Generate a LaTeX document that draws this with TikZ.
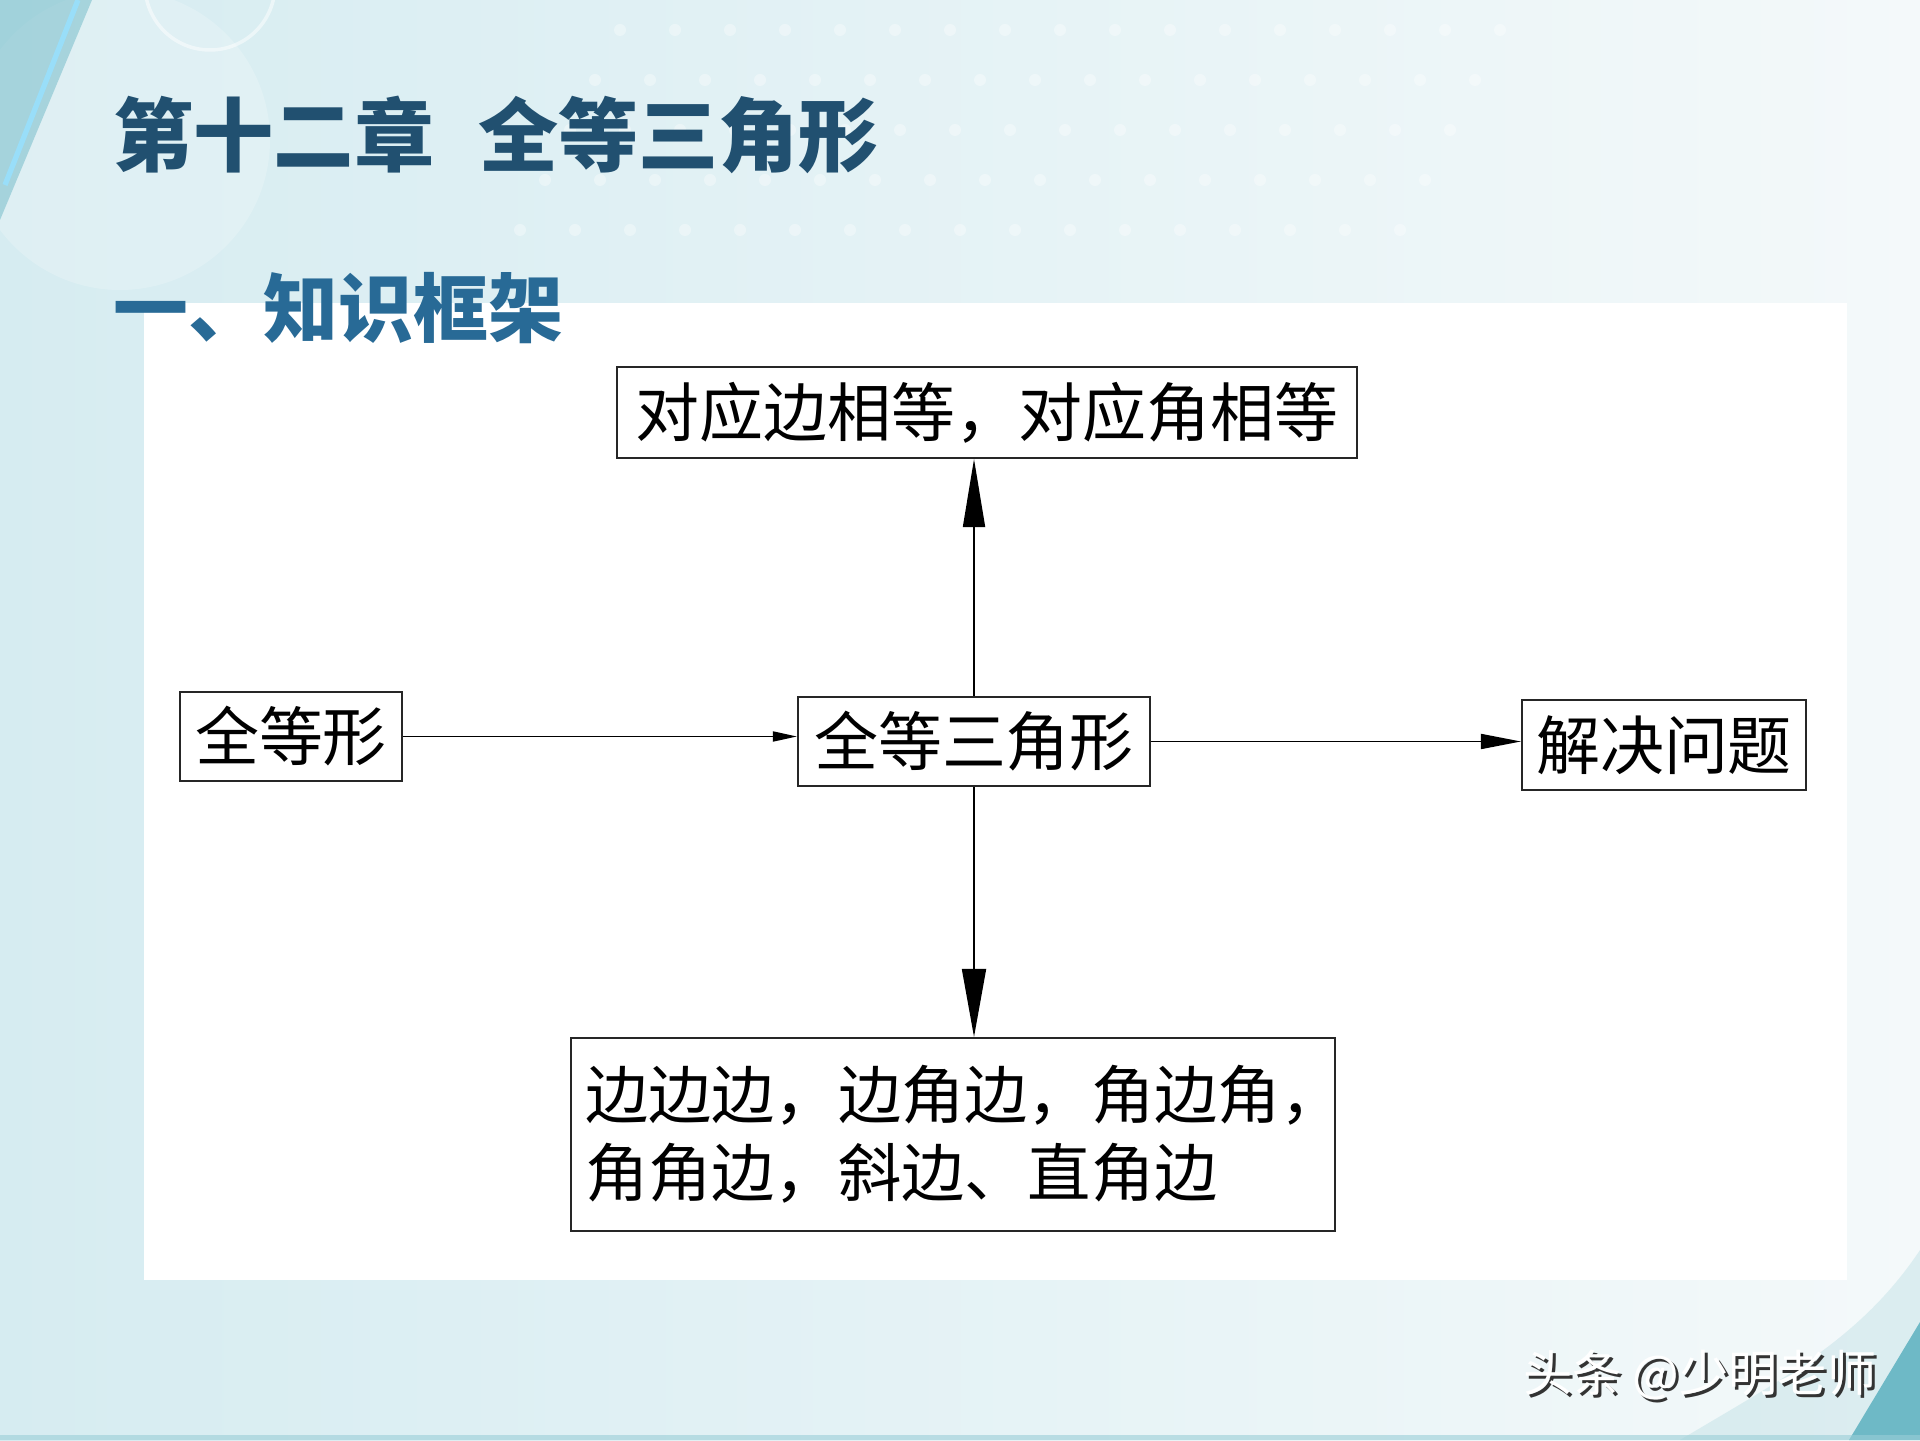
\documentclass[tikz,border=0pt]{standalone}
\usepackage{fontspec}
\newfontfamily\cjk{Noto Sans CJK SC}
\usetikzlibrary{arrows.meta}
\definecolor{titleblue}{RGB}{33,80,112}
\definecolor{subblue}{RGB}{40,106,150}
\definecolor{bgcyan}{RGB}{214,236,241}
\definecolor{bglight}{RGB}{244,249,250}
\definecolor{tealdeco}{RGB}{110,185,198}

\begin{document}
\begin{tikzpicture}[
  box/.style={draw=black!85,line width=0.6pt,fill=white,inner sep=0pt,
    font=\cjk\fontsize{18.2pt}{22.3pt}\selectfont},
  link/.style={line width=0.5pt}
]
\useasboundingbox (0,0) rectangle (19.2,14.4);
% background
\shade[left color=bgcyan,right color=bglight] (0,0) rectangle (19.2,14.4);
\fill[white,opacity=0.2] (1.2,13.0) circle (1.5);
\draw[white,opacity=0.5,line width=1pt] (2.1,14.55) circle (0.65);
\fill[tealdeco,opacity=0.5] (0,14.4) -- (0.92,14.4) -- (0,12.2) -- cycle;
\draw[cyan!40,line width=1.5pt] (0.05,12.55) -- (0.78,14.4);
\foreach \i in {0,...,16} {
  \foreach \j in {0,...,4} {
    \fill[white,opacity=0.35] (6.2+0.55*\i-0.25*\j,14.1-0.5*\j) circle (0.06);
  }
}
\fill[tealdeco!50,opacity=0.4] (16.8,0) .. controls (17.8,0.6) and (18.6,1.0) .. (19.2,1.9) -- (19.2,0) -- cycle;
\fill[tealdeco] (18.49,0) -- (19.2,0) -- (19.2,1.18) -- cycle;
\fill[tealdeco!70,opacity=0.6] (0,0) rectangle (19.2,0.05);

% white panel
\fill[white] (1.44,1.60) rectangle (18.47,11.37);

% headings
\node[anchor=west,inner sep=0pt,text=titleblue,font=\cjk\bfseries\fontsize{22.8pt}{26pt}\selectfont]
  (title) at (1.13,13.05) {第十二章\hspace{0.55em}全等三角形};
\node[anchor=west,inner sep=0pt,text=subblue,font=\cjk\bfseries\fontsize{21.3pt}{25pt}\selectfont]
  (subtitle) at (1.13,11.32) {一、知识框架};

% boxes
\node[box,minimum width=7.40cm,minimum height=0.91cm] (tbox) at (9.87,10.275) {对应边相等，对应角相等};
\node[box,minimum width=2.22cm,minimum height=0.89cm] (lbox) at (2.91,7.035) {全等形};
\node[box,minimum width=3.52cm,minimum height=0.89cm] (mbox) at (9.74,6.985) {全等三角形};
\node[box,minimum width=2.84cm,minimum height=0.90cm] (rbox) at (16.64,6.95) {解决问题};
\node[box,minimum width=7.64cm,minimum height=1.93cm,inner xsep=0.14cm,text width=7.36cm,align=left,
  font=\cjk\fontsize{18pt}{22.3pt}\selectfont] (bbox) at (9.53,3.055)
  {边边边，边角边，角边角，\\角角边，斜边、直角边};

% connectors
\draw[link,-{Triangle[length=0.68cm,width=0.22cm]}] (mbox.north) -- (mbox.north |- tbox.south);
\draw[link,-{Triangle[length=0.68cm,width=0.24cm]}] (mbox.south) -- (mbox.south |- bbox.north);
\draw[link,-{Triangle[length=0.24cm,width=0.10cm]}] (lbox.east) -- (lbox.east -| mbox.west);
\draw[link,-{Triangle[length=0.40cm,width=0.15cm]}] (mbox.east) -- (mbox.east -| rbox.west);

% watermark
\node[anchor=east,inner sep=0pt,text=black!80,font=\cjk\fontsize{14pt}{16pt}\selectfont]
  (wmshadow) at (18.80,0.62) {头条 @少明老师};
\node[anchor=east,inner sep=0pt,text=white,font=\cjk\fontsize{14pt}{16pt}\selectfont]
  (wm) at (18.77,0.65) {头条 @少明老师};
\end{tikzpicture}
\end{document}
